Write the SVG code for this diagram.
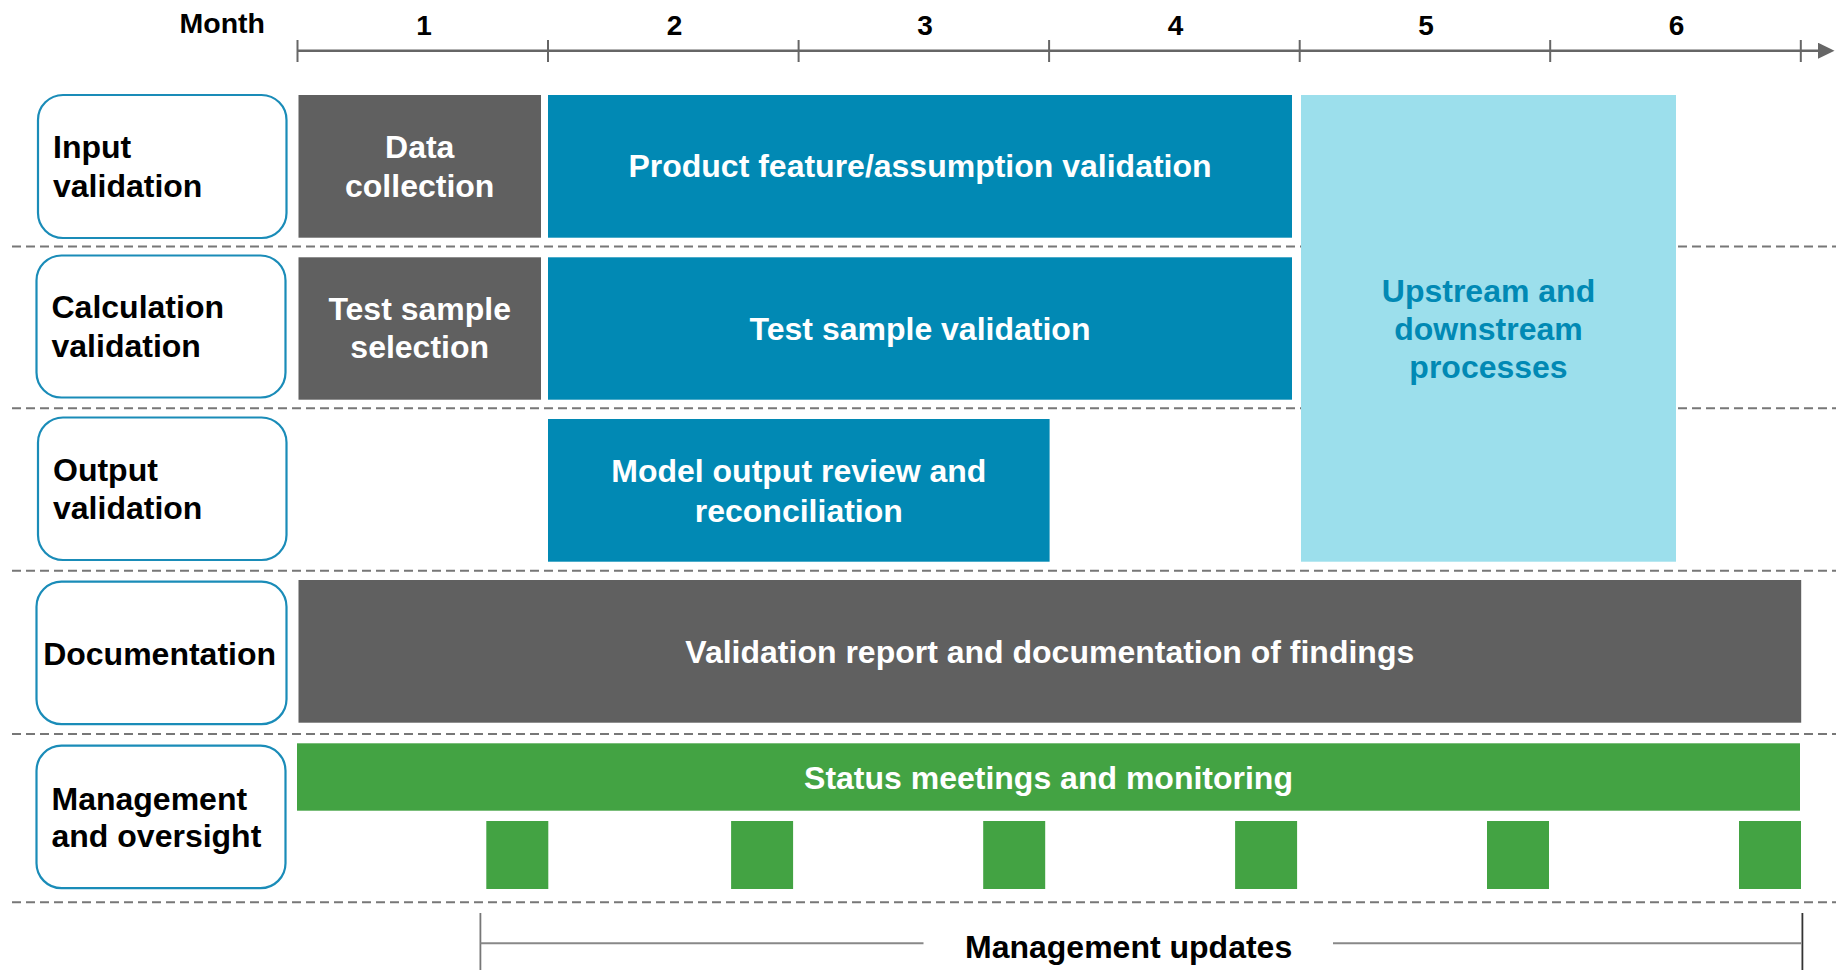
<svg xmlns="http://www.w3.org/2000/svg" width="1843" height="970" viewBox="0 0 1843 970">
  <style>
    text { font-family: "Liberation Sans", Arial, sans-serif; font-weight: bold; font-size: 32px; }
    .dark { fill: #000000; }
    .white { fill: #ffffff; text-anchor: middle; }
    .mid { text-anchor: middle; }
    .axis-num { font-size: 28px; text-anchor: middle; fill: #000000; }
    .lane { fill: #ffffff; stroke: #1a8cb8; stroke-width: 2.2; }
    .sep { stroke: #777777; stroke-width: 2; stroke-dasharray: 9 5; fill: none; }
    .gray { fill: #606060; }
    .blue { fill: #0189b4; }
    .light { fill: #9cdfec; }
    .green { fill: #43a343; }
    .tick { stroke: #666666; stroke-width: 2; }
    .bracket { stroke: #888888; stroke-width: 2; fill: none; }
  </style>
  <defs>
    <marker id="axisArrow" markerUnits="userSpaceOnUse" markerWidth="17" markerHeight="17" refX="1" refY="8" orient="auto">
      <path d="M0,0 L16.5,8 L0,16 Z" fill="#666666"/>
    </marker>
  </defs>

  <!-- time axis -->
  <g id="axis">
    <text x="265" y="33" class="dark" style="font-size:28.5px;text-anchor:end">Month</text>
    <line x1="297.5" y1="50.7" x2="1819" y2="50.7" stroke="#666666" stroke-width="2.5" marker-end="url(#axisArrow)"/>
    <line class="tick" x1="297.5" y1="40" x2="297.5" y2="62"/>
    <line class="tick" x1="548" y1="40" x2="548" y2="62"/>
    <line class="tick" x1="798.6" y1="40" x2="798.6" y2="62"/>
    <line class="tick" x1="1049.1" y1="40" x2="1049.1" y2="62"/>
    <line class="tick" x1="1299.7" y1="40" x2="1299.7" y2="62"/>
    <line class="tick" x1="1550.2" y1="40" x2="1550.2" y2="62"/>
    <line class="tick" x1="1800.8" y1="40" x2="1800.8" y2="62"/>
    <text class="axis-num" x="424" y="35">1</text>
    <text class="axis-num" x="674.5" y="35">2</text>
    <text class="axis-num" x="925" y="35">3</text>
    <text class="axis-num" x="1175.5" y="35">4</text>
    <text class="axis-num" x="1426" y="35">5</text>
    <text class="axis-num" x="1676.5" y="35">6</text>
  </g>

  <!-- lane separators -->
  <g id="separators">
    <line class="sep" x1="12" y1="246.5" x2="1836" y2="246.5"/>
    <line class="sep" x1="12" y1="408.3" x2="1836" y2="408.3"/>
    <line class="sep" x1="12" y1="570.7" x2="1836" y2="570.7"/>
    <line class="sep" x1="12" y1="734" x2="1836" y2="734"/>
    <line class="sep" x1="12" y1="902.3" x2="1836" y2="902.3"/>
  </g>

  <!-- lane headers -->
  <g id="lane-input">
    <rect class="lane" x="38" y="95" width="248.5" height="143" rx="25"/>
    <text class="dark" x="53" y="158.3">Input</text>
    <text class="dark" x="53" y="196.7">validation</text>
  </g>
  <g id="lane-calculation">
    <rect class="lane" x="36.5" y="255.5" width="249" height="142" rx="25"/>
    <text class="dark" x="51.5" y="318.3">Calculation</text>
    <text class="dark" x="51.5" y="356.7">validation</text>
  </g>
  <g id="lane-output">
    <rect class="lane" x="38" y="417.5" width="248.5" height="142.5" rx="25"/>
    <text class="dark" x="53" y="480.5">Output</text>
    <text class="dark" x="53" y="519">validation</text>
  </g>
  <g id="lane-documentation">
    <rect class="lane" x="36.5" y="581.7" width="250" height="142.5" rx="25"/>
    <text class="dark mid" x="159.6" y="665">Documentation</text>
  </g>
  <g id="lane-management">
    <rect class="lane" x="36.5" y="745.7" width="249" height="142.5" rx="25"/>
    <text class="dark" x="51.5" y="810">Management</text>
    <text class="dark" x="51.5" y="847.3">and oversight</text>
  </g>

  <!-- activity bars -->
  <g id="data-collection">
    <rect class="gray" x="298.5" y="95" width="242.5" height="142.7"/>
    <text class="white" x="419.7" y="158.3">Data</text>
    <text class="white" x="419.7" y="196.7">collection</text>
  </g>
  <g id="product-feature-validation">
    <rect class="blue" x="548" y="95" width="744" height="142.7"/>
    <text class="white" x="920" y="177">Product feature/assumption validation</text>
  </g>
  <g id="test-sample-selection">
    <rect class="gray" x="298.5" y="257.3" width="242.5" height="142.4"/>
    <text class="white" x="419.7" y="320">Test sample</text>
    <text class="white" x="419.7" y="358.3">selection</text>
  </g>
  <g id="test-sample-validation">
    <rect class="blue" x="548" y="257.3" width="744" height="142.4"/>
    <text class="white" x="920" y="340">Test sample validation</text>
  </g>
  <g id="model-output-review">
    <rect class="blue" x="548" y="419" width="501.6" height="142.7"/>
    <text class="white" x="798.8" y="482.3">Model output review and</text>
    <text class="white" x="798.8" y="521.7">reconciliation</text>
  </g>
  <g id="upstream-downstream">
    <rect class="light" x="1301" y="95" width="375" height="466.7"/>
    <text x="1488.5" y="301.7" style="fill:#0189b4;text-anchor:middle">Upstream and</text>
    <text x="1488.5" y="340" style="fill:#0189b4;text-anchor:middle">downstream</text>
    <text x="1488.5" y="378.3" style="fill:#0189b4;text-anchor:middle">processes</text>
  </g>
  <g id="validation-report">
    <rect class="gray" x="298.5" y="580" width="1502.7" height="142.7"/>
    <text class="white" x="1049.8" y="662.5">Validation report and documentation of findings</text>
  </g>
  <g id="status-meetings">
    <rect class="green" x="297" y="743.3" width="1503" height="67.4"/>
    <text class="white" x="1048.5" y="789.3">Status meetings and monitoring</text>
  </g>
  <g id="management-updates">
    <rect class="green" x="486.3" y="821" width="62" height="68"/>
    <rect class="green" x="731.1" y="821" width="62" height="68"/>
    <rect class="green" x="983.2" y="821" width="62" height="68"/>
    <rect class="green" x="1235.1" y="821" width="62" height="68"/>
    <rect class="green" x="1487" y="821" width="62" height="68"/>
    <rect class="green" x="1739" y="821" width="62" height="68"/>
  </g>

  <!-- management updates span -->
  <g id="updates-span">
    <line x1="480.4" y1="913" x2="480.4" y2="970" stroke="#777777" stroke-width="1.8"/>
    <line class="bracket" x1="480.4" y1="943.3" x2="923.5" y2="943.3"/>
    <line class="bracket" x1="1333" y1="943.3" x2="1801" y2="943.3"/>
    <line x1="1802.4" y1="913" x2="1802.4" y2="970" stroke="#333333" stroke-width="1.8"/>
    <text class="dark" x="965" y="958.3">Management updates</text>
  </g>
</svg>
